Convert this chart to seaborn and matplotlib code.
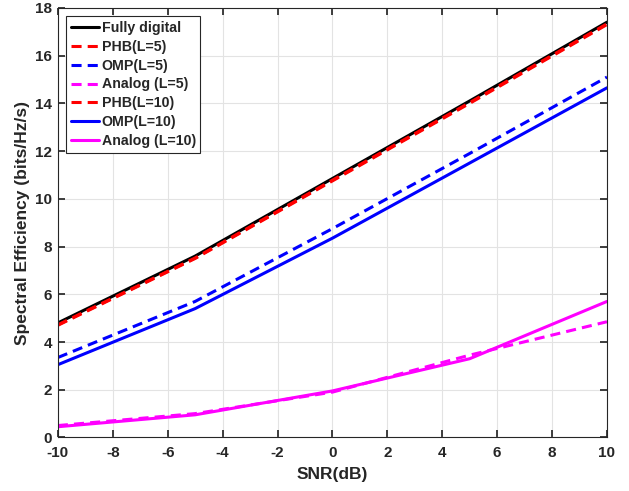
import matplotlib
matplotlib.use("Agg")
import matplotlib.pyplot as plt
import seaborn as sns
import pandas as pd

snr = [-10, -5, 0, 5, 10]
fully_digital = [4.8, 7.6, 10.85, 14.1, 17.4]
phb_l5 = [4.7, 7.5, 10.75, 14.0, 17.3]
omp_l5 = [3.35, 5.7, 8.75, 11.9, 15.1]
analog_l5 = [0.5, 1.0, 1.9, 3.45, 4.85]
phb_l10 = [4.72, 7.52, 10.78, 14.03, 17.33]
omp_l10 = [3.05, 5.4, 8.35, 11.5, 14.65]
analog_l10 = [0.45, 0.95, 1.95, 3.3, 5.7]

DASH = (0, (3.3, 2.0))
series = [
    ("Fully digital", fully_digital, "black", "-"),
    ("PHB(L=5)", phb_l5, "red", DASH),
    ("OMP(L=5)", omp_l5, "blue", DASH),
    ("Analog (L=5)", analog_l5, "magenta", DASH),
    ("PHB(L=10)", phb_l10, "red", DASH),
    ("OMP(L=10)", omp_l10, "blue", "-"),
    ("Analog (L=10)", analog_l10, "magenta", "-"),
]

sns.set_theme(style="whitegrid")
plt.rcParams['font.family'] = ['Liberation Sans', 'DejaVu Sans']
plt.rcParams['font.weight'] = 'bold'
plt.rcParams['axes.unicode_minus'] = False

fig = plt.figure(figsize=(6.29, 4.91), dpi=100)
ax = fig.add_axes([0.092, 0.109, 0.873, 0.875])

for name, vals, color, ls in series:
    df = pd.DataFrame({"SNR": snr, "SE": vals})
    sns.lineplot(data=df, x="SNR", y="SE", ax=ax, color=color, linestyle=ls,
                 linewidth=2.2, label=name)

ax.set_xlim(-10, 10)
ax.set_ylim(0, 18)
ax.set_xticks(range(-10, 11, 2))
ax.set_yticks(range(0, 19, 2))
ax.set_xlabel("SNR(dB)", fontsize=12.5, fontweight="bold", labelpad=5)
ax.set_ylabel("Spectral Efficiency (bits/Hz/s)", fontsize=12.5, fontweight="bold", labelpad=4)
ax.tick_params(axis="both", labelsize=11, direction="in", length=5, color="#262626",
               top=True, right=True, bottom=True, left=True)
ax.tick_params(axis="x", pad=6)
ax.tick_params(axis="y", pad=4)
for lbl in ax.get_xticklabels() + ax.get_yticklabels():
    lbl.set_fontweight("bold")
ax.grid(True, color="#e3e3e3", linewidth=0.8)
ax.set_facecolor("white")
for sp in ax.spines.values():
    sp.set_color("#262626")
    sp.set_linewidth(0.8)

leg = ax.legend(loc="upper left", fontsize=10.2, frameon=True, fancybox=False,
                handlelength=2.0, handletextpad=0.2, borderpad=0.3,
                labelspacing=0.35, borderaxespad=0.6)
leg.get_frame().set_edgecolor("#262626")
leg.get_frame().set_linewidth(0.8)
leg.get_frame().set_alpha(1)
for t in leg.get_texts():
    t.set_fontweight("bold")

fig.savefig("out.png", dpi=100)
